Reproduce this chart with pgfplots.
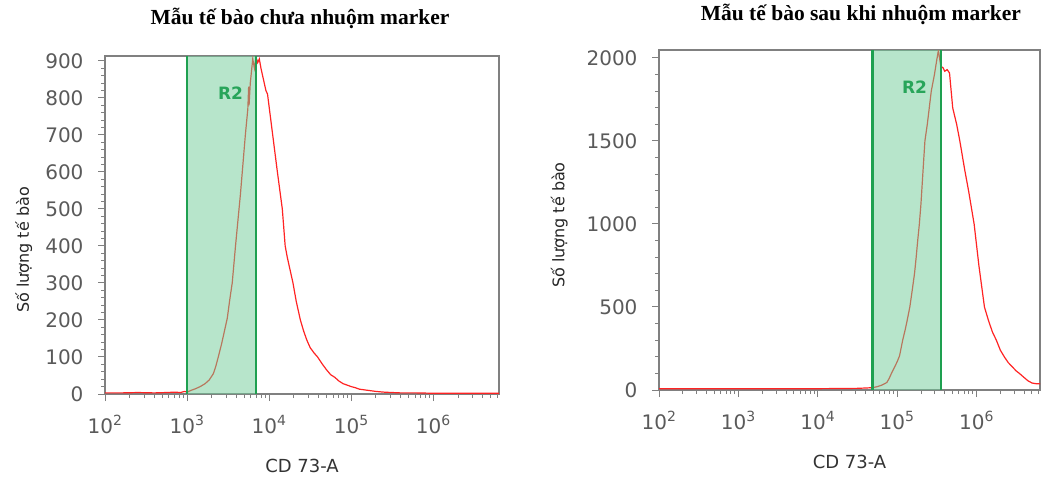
\documentclass[border=0pt]{standalone}
\usepackage{fontspec}
\setmainfont{DejaVu Sans}
\newfontfamily\titlefont{Liberation Serif}
\usepackage{pgfplots}
\pgfplotsset{compat=1.18}
\definecolor{axgray}{RGB}{128,128,128}
\definecolor{labgray}{RGB}{90,90,90}
\definecolor{curvered}{RGB}{255,35,35}
\definecolor{gateline}{RGB}{30,160,80}
\definecolor{gatefill}{RGB}{112,204,152}
\definecolor{rtwo}{RGB}{40,165,90}

\pgfplotstableread{
lx cnt
2.00 3
2.20 3
2.40 4
2.60 3
2.75 4
2.85 5
2.92 4
2.97 7
3.00 5
3.05 10
3.10 14
3.16 20
3.22 28
3.27 38
3.32 55
3.35 75
3.38 100
3.42 135
3.46 175
3.49 205
3.52 255
3.55 300
3.57 350
3.59 400
3.62 470
3.65 540
3.68 620
3.71 700
3.74 770
3.75 830
3.755 780
3.77 840
3.80 905
3.82 880
3.84 910
3.86 895
3.88 905
3.90 880
3.93 850
3.96 820
3.98 810
4.02 740
4.06 670
4.10 600
4.13 550
4.16 500
4.195 400
4.22 370
4.26 330
4.29 300
4.33 250
4.38 200
4.42 170
4.46 145
4.50 125
4.55 110
4.59 100
4.65 80
4.70 65
4.75 52
4.80 45
4.85 35
4.90 28
4.95 24
5.00 20
5.05 17
5.10 13
5.20 10
5.30 7
5.40 5
5.50 4
5.60 3
5.80 3
6.00 2
6.50 2
6.80 2
}\unstained

\pgfplotstableread{
lx cnt
2.00 8
2.50 8
3.00 8
3.50 8
4.00 8
4.30 9
4.50 10
4.60 12
4.69 14
4.75 20
4.80 28
4.87 45
4.90 70
4.93 102
4.97 140
5.00 170
5.03 205
5.07 300
5.10 360
5.12 404
5.16 500
5.19 600
5.22 705
5.24 800
5.26 904
5.28 1000
5.30 1120
5.33 1350
5.35 1500
5.38 1600
5.43 1800
5.47 1900
5.50 1990
5.52 2045
5.55 1950
5.58 1940
5.60 1920
5.63 1930
5.66 1910
5.70 1700
5.75 1600
5.79 1500
5.85 1330
5.90 1200
5.97 1000
6.03 750
6.10 500
6.15 420
6.20 350
6.25 300
6.30 240
6.35 200
6.40 165
6.45 140
6.50 115
6.54 100
6.60 75
6.65 55
6.70 42
6.75 38
6.80 38
}\stained

\pgfplotsset{
  flow/.style={
    scale only axis,
    axis line style={draw=axgray, line width=1.3pt},
    tick style={draw=axgray, line width=1pt},
    tick align=outside,
    xtick pos=bottom, ytick pos=left,
    major tick length=7pt, minor tick length=4pt,
    xmin=2, xmax=6.8, ymin=0,
    xtick={2,3,4,5,6},
    xticklabels={10\textsuperscript{2},10\textsuperscript{3},10\textsuperscript{4},10\textsuperscript{5},10\textsuperscript{6}},
    minor xtick={2.301,2.477,2.602,2.699,2.778,2.845,2.903,2.954,
                 3.301,3.477,3.602,3.699,3.778,3.845,3.903,3.954,
                 4.301,4.477,4.602,4.699,4.778,4.845,4.903,4.954,
                 5.301,5.477,5.602,5.699,5.778,5.845,5.903,5.954,
                 6.301,6.477,6.602,6.699,6.778},
    minor y tick num=4,
    /pgf/number format/assume math mode=true,
    /pgf/number format/set thousands separator={},
    tick label style={font=\fontsize{20}{22}\selectfont, text=labgray},
    xticklabel style={yshift=-11pt},
    yticklabel style={xshift=-11pt},
    xlabel={CD 73-A},
    ylabel={Số lượng tế bào},
    every axis x label/.style={at={(axis description cs:0.5,0)}, yshift=-72pt, anchor=center, font=\fontsize{18}{20}\selectfont, text=black!80},
    title style={font=\titlefont\bfseries\fontsize{21.5}{23}\selectfont, anchor=base},
  }
}

\begin{document}
\begin{tikzpicture}
\path[use as bounding box] (0pt,0pt) rectangle (1041pt,-479pt);

% Left panel
\begin{axis}[flow,
  at={(105pt,-394pt)}, anchor=south west,
  width=394pt, height=338pt,
  ymax=913, ytick={0,100,...,900},
  every axis y label/.style={at={(axis description cs:-0.206,0.426)}, rotate=90, anchor=center, font=\fontsize{16}{18}\selectfont, text=black!85},
  title={Mẫu tế bào chưa nhuộm marker},
  title style={at={(axis description cs:0.495,1)}, yshift=26pt},
]
\addplot[curvered, line width=1.2pt] table[x=lx, y=cnt] {\unstained};
\addplot[draw=none, fill=gatefill, fill opacity=0.5] coordinates {(3,0) (3,913) (3.84,913) (3.84,0)} \closedcycle;
\addplot[gateline, line width=2.2pt] coordinates {(3,0) (3,913)};
\addplot[gateline, line width=2.2pt] coordinates {(3.84,0) (3.84,913)};
\node[font=\bfseries\fontsize{17}{19}\selectfont, text=rtwo] at (axis cs:3.53,813) {R2};
\end{axis}

% Right panel
\begin{axis}[flow,
  at={(659pt,-390pt)}, anchor=south west,
  width=381pt, height=340pt,
  ymax=2048, ytick={0,500,...,2000},
  every axis y label/.style={at={(axis description cs:-0.262,0.485)}, rotate=90, anchor=center, font=\fontsize{16}{18}\selectfont, text=black!85},
  title={Mẫu tế bào sau khi nhuộm marker},
  title style={at={(axis description cs:0.53,1)}, yshift=24pt},
]
\addplot[curvered, line width=1.2pt] table[x=lx, y=cnt] {\stained};
\addplot[draw=none, fill=gatefill, fill opacity=0.5] coordinates {(4.69,0) (4.69,2048) (5.55,2048) (5.55,0)} \closedcycle;
\addplot[gateline, line width=2.2pt] coordinates {(4.69,0) (4.69,2048)};
\addplot[gateline, line width=2.2pt] coordinates {(5.55,0) (5.55,2048)};
\node[font=\bfseries\fontsize{17}{19}\selectfont, text=rtwo] at (axis cs:5.22,1825) {R2};
\end{axis}
\end{tikzpicture}
\end{document}
